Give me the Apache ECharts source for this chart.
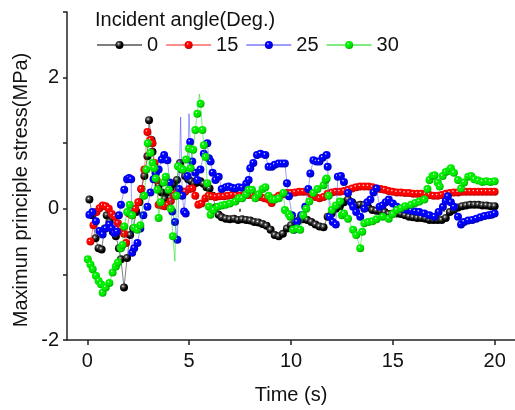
<!DOCTYPE html>
<html>
<head>
<meta charset="utf-8">
<script src="https://cdn.jsdelivr.net/npm/echarts@6/dist/echarts.min.js"></script>
<style>
html,body{margin:0;padding:0;background:#fff;}
#chart{width:515px;height:410px;}
</style>
</head>
<body>
<div id="chart"></div>
<script>
// Series names (incident angle, deg.)
const seriesNames = ['0', '15', '25', '30'];
const xTickValues = [0, 5, 10, 15, 20];
const xMinorTickValues = [2.5, 7.5, 12.5, 17.5];

// [time (s), maximum principle stress (MPa)]
const s0 = [[0.1,0.14],[0.25,-0.1],[0.4,-0.45],[0.55,-0.6],[0.7,-0.62],[0.85,-0.3],[0.95,-0.1],[1.1,-0.2],[1.25,-0.35],[1.4,-0.42],[1.55,-0.6],[1.65,-0.77],[1.8,-1.2],[1.95,-0.75],[2.1,-0.4],[2.25,-0.3],[2.4,-0.05],[2.55,0.1],[2.65,0.3],[2.8,0.5],[2.95,0.8],[3.03,1.35],[3.15,1.05],[3.2,0.87],[3.35,0.55],[3.5,0.35],[3.65,0.25],[3.8,0.15],[3.95,0.25],[4.1,0.33],[4.25,0.38],[4.4,0.44],[4.55,0.7],[4.65,0.6],[4.8,0.5],[4.95,0.45],[5.1,0.42],[5.25,0.38],[5.4,0.4],[5.55,0.42],[5.7,0.38],[5.85,0.33],[6.0,0.31],[6.15,0.2],[6.3,0.02],[6.45,-0.09],[6.6,-0.13],[6.8,-0.15],[7.0,-0.16],[7.2,-0.15],[7.4,-0.17],[7.6,-0.16],[7.8,-0.17],[8.0,-0.18],[8.2,-0.2],[8.4,-0.21],[8.6,-0.23],[8.8,-0.26],[9.0,-0.32],[9.2,-0.4],[9.4,-0.42],[9.6,-0.38],[9.8,-0.3],[10.0,-0.25],[10.2,-0.2],[10.4,-0.17],[10.6,-0.16],[10.8,-0.17],[11.0,-0.2],[11.2,-0.24],[11.4,-0.27],[11.6,-0.28],[11.8,-0.12],[12.0,-0.07],[12.2,0.0],[12.4,0.04],[12.6,0.1],[12.8,0.14],[13.0,0.1],[13.2,0.05],[13.4,0.06],[13.6,0.06],[13.8,0.02],[14.0,-0.02],[14.2,-0.03],[14.4,-0.04],[14.6,-0.05],[14.8,-0.08],[15.0,-0.07],[15.2,-0.07],[15.4,-0.08],[15.6,-0.1],[15.8,-0.12],[16.0,-0.13],[16.2,-0.14],[16.4,-0.14],[16.6,-0.15],[16.8,-0.17],[17.0,-0.17],[17.2,-0.17],[17.4,-0.17],[17.6,-0.14],[17.8,-0.05],[18.0,-0.02],[18.2,0.02],[18.4,0.04],[18.6,0.05],[18.8,0.06],[19.0,0.06],[19.2,0.06],[19.4,0.05],[19.6,0.05],[19.8,0.04],[20.0,0.04]];

const s15 = [[0.15,-0.5],[0.3,-0.25],[0.45,-0.05],[0.6,0.01],[0.75,0.05],[0.9,0.04],[1.05,0.0],[1.2,-0.08],[1.35,-0.12],[1.5,-0.22],[1.65,-0.3],[1.8,-0.38],[1.9,-0.52],[2.05,-0.07],[2.2,-0.1],[2.35,0.0],[2.5,0.1],[2.65,0.3],[2.8,0.6],[2.95,1.17],[3.1,1.05],[3.2,1.0],[3.3,0.7],[3.4,0.44],[3.5,0.06],[3.65,0.05],[3.8,0.04],[3.95,0.06],[4.1,0.12],[4.25,0.2],[4.4,0.25],[4.6,0.27],[4.8,0.26],[5.0,0.3],[5.15,0.31],[5.3,0.2],[5.45,0.06],[5.6,0.08],[5.8,0.16],[5.95,0.2],[6.1,0.19],[6.3,0.18],[6.5,0.19],[6.7,0.19],[6.9,0.2],[7.1,0.21],[7.3,0.21],[7.5,0.2],[7.7,0.21],[7.9,0.21],[8.1,0.21],[8.3,0.2],[8.5,0.18],[8.7,0.16],[8.9,0.14],[9.05,0.09],[9.2,0.16],[9.4,0.2],[9.6,0.22],[9.8,0.24],[10.0,0.24],[10.2,0.25],[10.4,0.26],[10.6,0.26],[10.8,0.26],[11.0,0.22],[11.2,0.18],[11.4,0.16],[11.6,0.18],[11.8,0.23],[12.0,0.25],[12.2,0.26],[12.4,0.26],[12.6,0.27],[12.8,0.29],[13.0,0.31],[13.2,0.33],[13.4,0.34],[13.6,0.34],[13.8,0.34],[14.0,0.33],[14.2,0.31],[14.4,0.3],[14.6,0.29],[14.8,0.27],[15.0,0.26],[15.2,0.25],[15.4,0.25],[15.6,0.24],[15.8,0.24],[16.0,0.23],[16.2,0.23],[16.4,0.23],[16.6,0.22],[16.8,0.21],[17.0,0.2],[17.2,0.2],[17.4,0.21],[17.6,0.23],[17.8,0.24],[18.0,0.25],[18.2,0.25],[18.4,0.26],[18.6,0.26],[18.8,0.26],[19.0,0.26],[19.2,0.26],[19.4,0.26],[19.6,0.26],[19.8,0.26],[20.0,0.26]];

const s25 = [[0.1,-0.09],[0.25,-0.05],[0.42,-0.19],[0.59,-0.34],[0.75,-0.39],[0.9,-0.3],[1.08,-0.24],[1.2,-0.3],[1.32,-0.37],[1.45,-0.35],[1.55,-0.1],[1.65,0.06],[1.81,0.29],[1.95,0.45],[2.05,0.47],[2.15,0.45],[2.2,-0.67],[2.3,-0.6],[2.46,-0.52],[2.6,-0.3],[2.75,-0.1],[2.95,0.03],[3.1,0.25],[3.25,0.45],[3.36,0.54],[3.5,0.6],[3.65,0.75],[3.77,0.82],[3.93,0.74],[4.05,0.4],[4.17,-0.04],[4.3,-0.2],[4.42,-0.47],[4.5,0.3],[4.58,1.4],[4.66,0.2],[4.75,-0.04],[4.83,-0.07],[4.92,0.5],[4.99,1.45],[5.05,1.02],[5.15,0.72],[5.3,0.55],[5.4,0.44],[5.55,0.6],[5.72,0.84],[5.89,1.0],[5.97,0.77],[6.05,0.72],[6.15,0.55],[6.29,0.44],[6.45,0.49],[6.6,0.3],[6.8,0.33],[6.94,0.34],[7.1,0.32],[7.27,0.31],[7.43,0.33],[7.6,0.32],[7.8,0.38],[7.92,0.44],[8.0,0.62],[8.15,0.7],[8.33,0.82],[8.5,0.84],[8.74,0.82],[8.9,0.64],[9.06,0.64],[9.2,0.67],[9.39,0.69],[9.55,0.69],[9.7,0.69],[9.8,0.39],[9.9,0.19],[10.05,-0.1],[10.15,-0.32],[10.3,-0.2],[10.5,-0.1],[10.7,0.03],[10.85,0.3],[10.95,0.54],[11.1,0.74],[11.25,0.72],[11.4,0.72],[11.55,0.78],[11.75,0.82],[11.8,0.64],[11.9,-0.12],[12.05,-0.2],[12.2,-0.24],[12.3,0.49],[12.45,0.5],[12.6,0.41],[12.8,0.24],[12.95,0.1],[13.05,0.03],[13.2,-0.05],[13.4,-0.12],[13.6,0.0],[13.75,0.1],[13.9,0.14],[14.05,0.25],[14.2,0.31],[14.35,0.03],[14.5,0.05],[14.65,0.1],[14.8,0.14],[15.0,0.08],[15.2,0.03],[15.4,0.0],[15.6,-0.01],[15.75,-0.02],[15.9,-0.03],[16.1,-0.04],[16.3,-0.05],[16.55,-0.07],[16.8,-0.1],[17.05,-0.12],[17.25,-0.05],[17.46,0.03],[17.6,0.12],[17.7,0.19],[17.85,0.1],[18.0,0.03],[18.2,-0.12],[18.35,-0.24],[18.5,-0.2],[18.7,-0.18],[18.9,-0.17],[19.1,-0.15],[19.3,-0.13],[19.5,-0.11],[19.7,-0.1],[19.85,-0.09],[20.0,-0.07]];

const s30 = [[0.02,-0.77],[0.15,-0.85],[0.26,-0.92],[0.42,-1.02],[0.55,-1.1],[0.67,-1.15],[0.75,-1.28],[0.9,-1.2],[1.08,-1.13],[1.24,-0.97],[1.4,-0.88],[1.5,-0.82],[1.65,-0.6],[1.73,-0.55],[1.81,-0.27],[1.95,-0.05],[2.08,0.06],[2.2,-0.1],[2.3,-0.29],[2.45,-0.32],[2.6,-0.25],[2.79,0.2],[2.9,0.6],[2.97,1.0],[3.1,0.85],[3.2,0.7],[3.28,0.62],[3.36,0.46],[3.44,0.29],[3.5,-0.14],[3.6,0.1],[3.75,0.4],[3.85,0.49],[4.0,0.29],[4.1,0.0],[4.2,-0.42],[4.3,-0.8],[4.38,0.2],[4.45,0.65],[4.58,0.62],[4.7,0.6],[4.85,0.75],[4.99,0.92],[5.07,0.62],[5.2,0.9],[5.3,1.2],[5.4,1.45],[5.5,1.75],[5.56,1.6],[5.65,1.2],[5.72,0.97],[5.8,0.79],[5.89,0.39],[5.97,0.03],[6.05,-0.09],[6.2,-0.02],[6.4,0.03],[6.6,0.05],[6.78,0.06],[7.0,0.08],[7.27,0.11],[7.43,0.16],[7.6,0.16],[7.8,0.22],[7.92,0.29],[8.08,0.29],[8.25,0.16],[8.4,0.22],[8.6,0.3],[8.74,0.33],[8.9,0.2],[9.06,0.14],[9.2,0.14],[9.4,0.16],[9.63,0.24],[9.7,-0.02],[9.88,-0.08],[9.96,-0.12],[10.1,-0.32],[10.3,-0.3],[10.45,-0.32],[10.6,-0.1],[10.75,0.0],[10.9,0.11],[11.1,0.24],[11.3,0.3],[11.6,0.36],[11.7,0.44],[11.75,0.46],[11.85,0.2],[12.0,-0.02],[12.2,0.05],[12.4,0.11],[12.5,-0.1],[12.6,-0.07],[12.8,-0.15],[13.05,-0.32],[13.2,-0.4],[13.4,-0.6],[13.5,-0.35],[13.6,-0.22],[13.8,-0.2],[14.0,-0.19],[14.2,-0.16],[14.5,-0.12],[14.8,-0.15],[15.0,-0.08],[15.2,-0.02],[15.4,0.01],[15.6,0.04],[15.9,0.06],[16.1,0.09],[16.3,0.11],[16.55,0.14],[16.7,0.3],[16.8,0.44],[16.95,0.5],[17.05,0.51],[17.2,0.4],[17.3,0.34],[17.45,0.5],[17.6,0.56],[17.75,0.58],[17.85,0.62],[18.0,0.55],[18.2,0.44],[18.35,0.31],[18.5,0.4],[18.7,0.49],[18.85,0.5],[19.0,0.45],[19.2,0.43],[19.4,0.41],[19.6,0.42],[19.8,0.41],[20.0,0.42]];

// time points of each series drawn as line only (thin spikes)
const noMarker = { '0': [], '15': [], '25': [4.58, 4.99], '30': [4.3, 5.5] };

const seriesData = [s0, s15, s25, s30];
const baseColors = ['#000000', '#ff0000', '#0000ff', '#00ee00'];
const darkColors = ['#000000', '#a00000', '#0000a0', '#009900'];
const lineColors = ['rgba(0,0,0,0.5)', 'rgba(255,0,0,0.45)', 'rgba(60,60,255,0.5)', 'rgba(0,220,0,0.5)'];

function ball(i) {
  return {
    type: 'radial', x: 0.38, y: 0.35, r: 0.7,
    colorStops: [
      { offset: 0, color: '#ffffff' },
      { offset: 0.22, color: i === 0 ? '#555' : baseColors[i] },
      { offset: 0.6, color: baseColors[i] },
      { offset: 1, color: darkColors[i] }
    ]
  };
}

const FONT = 'Liberation Sans, Arial, sans-serif';
const chart = echarts.init(document.getElementById('chart'), null, { renderer: 'canvas' });

const option = {
  animation: false,
  backgroundColor: '#ffffff',
  title: {
    text: 'Incident angle(Deg.)',
    left: 95, top: 10, padding: 0,
    textStyle: { fontFamily: FONT, fontSize: 20, fontWeight: 'normal', color: '#111' }
  },
  legend: {
    data: seriesNames,
    left: 96, top: 35,
    itemWidth: 45, itemHeight: 10, itemGap: 7,
    textStyle: { fontFamily: FONT, fontSize: 20, color: '#111' },
    padding: 0
  },
  grid: { left: 67, right: -3, top: 12, bottom: 69, containLabel: false },
  xAxis: [{
    type: 'value', min: -1, max: 21,
    name: 'Time (s)', nameLocation: 'middle', nameGap: 45,
    nameTextStyle: { fontFamily: FONT, fontSize: 20, color: '#111' },
    axisLine: { show: true, onZero: false, lineStyle: { color: '#222', width: 1.5 } },
    axisTick: { show: true, customValues: xTickValues, length: 5, inside: false, lineStyle: { color: '#222', width: 1.5 } },
    axisLabel: { customValues: xTickValues, margin: 11, fontFamily: FONT, fontSize: 20, color: '#111' },
    splitLine: { show: false }
  }, {
    type: 'value', min: -1, max: 21, position: 'bottom',
    axisLine: { show: false },
    axisTick: { show: true, customValues: xMinorTickValues, length: 3, lineStyle: { color: '#222', width: 1.5 } },
    axisLabel: { show: false },
    splitLine: { show: false }
  }],
  yAxis: {
    type: 'value', min: -2, max: 3, interval: 1,
    axisLine: { show: true, onZero: false, lineStyle: { color: '#222', width: 1.5 } },
    axisTick: { show: true, length: 4, lineStyle: { color: '#222', width: 1.5 } },
    axisLabel: {
      margin: 8, fontFamily: FONT, fontSize: 20, color: '#111',
      formatter: function (v) { return (Math.round(v) % 2 === 0) ? String(v) : ''; }
    },
    splitLine: { show: false }
  },
  graphic: [{
    type: 'text',
    x: 21, y: 190, rotation: Math.PI / 2,
    style: {
      text: 'Maximun principle stress(MPa)',
      fontFamily: FONT, fontSize: 20, fill: '#111',
      align: 'center', verticalAlign: 'middle'
    }
  }],
  series: seriesNames.map(function (name, i) {
    const skip = noMarker[name];
    return {
      name: name,
      type: 'line',
      xAxisIndex: 0,
      data: seriesData[i],
      symbol: 'circle',
      symbolSize: function (val) { return skip.indexOf(val[0]) >= 0 ? 0 : 8; },
      showAllSymbol: true,
      itemStyle: { color: ball(i), borderWidth: 0 },
      lineStyle: { color: lineColors[i], width: 1 },
      emphasis: { disabled: true },
      z: 2 + i
    };
  })
};
chart.setOption(option);
</script>
</body>
</html>
